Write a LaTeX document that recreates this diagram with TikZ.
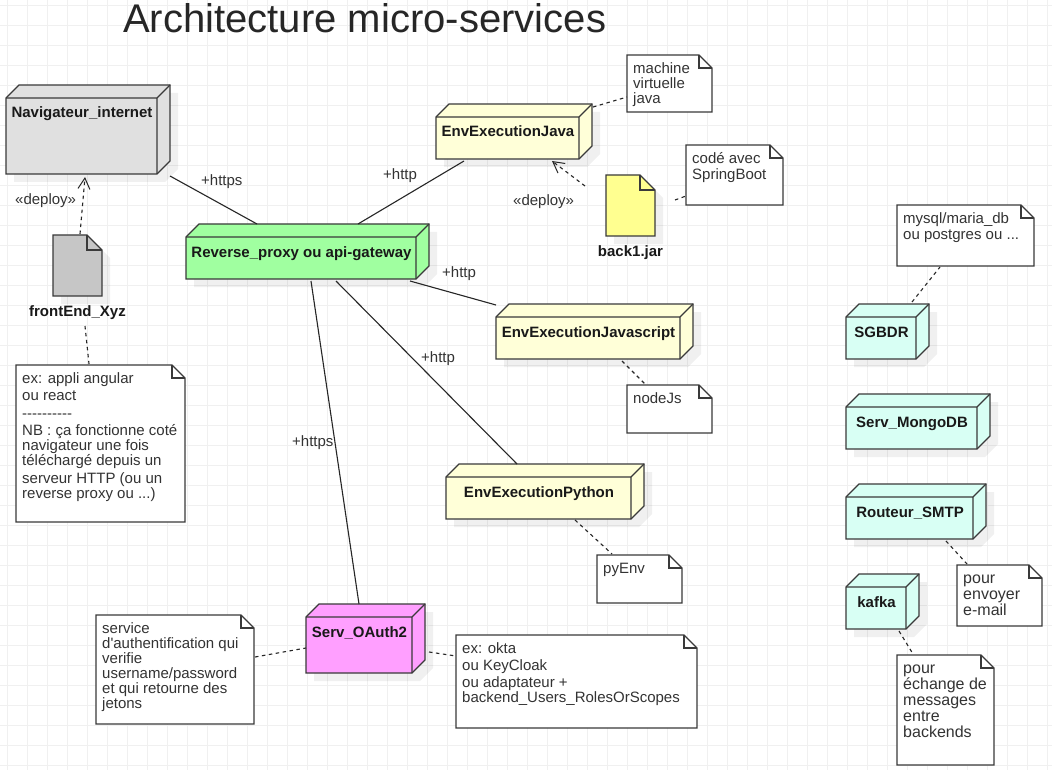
\documentclass[tikz,border=0pt]{standalone}
\usepackage{fontspec}
\usetikzlibrary{arrows.meta}
\newfontfamily\libfont{Liberation Sans}
\definecolor{inkc}{HTML}{3A3A3A}
\definecolor{txtc}{HTML}{333333}
\definecolor{gridc}{HTML}{F0F0F0}
\definecolor{nodegray}{HTML}{E0E0E0}
\definecolor{filegray}{HTML}{C6C6C6}
\definecolor{nodegreen}{HTML}{A0FFA0}
\definecolor{nodeyellow}{HTML}{FFFFD8}
\definecolor{fileyellow}{HTML}{FFFF90}
\definecolor{nodepink}{HTML}{FF9FFF}
\definecolor{nodecyan}{HTML}{D8FFF4}
\tikzset{
  shapeline/.style={draw=inkc,line width=1.25pt,line join=miter},
  softshadow/.style={fill=black,fill opacity=0.06,draw=none},
  anchorbox/.style={inner sep=0pt,outer sep=0pt,draw=none},
  nodelabel/.style={font=\libfont\bfseries\fontsize{15}{15}\selectfont,text=black!90,anchor=base,inner sep=0pt},
  notetext/.style={font=\libfont\fontsize{15}{15}\selectfont,text=txtc,anchor=north west,align=left,inner sep=0pt},
  bignote/.style={font=\libfont\fontsize{16}{16}\selectfont},
  linklabel/.style={font=\libfont\fontsize{15}{15}\selectfont,text=txtc,anchor=base west,inner sep=0pt},
  assoc/.style={draw=black!85,line width=1.1pt},
  notelink/.style={draw=black!85,line width=1.1pt,dash pattern=on 3.5pt off 3.5pt},
  deploylink/.style={notelink,-{Straight Barb[length=11pt,width=12pt,line width=1pt]}},
}
% name x1 y1 x2 y2 depth colour text
\newcommand{\deploybox}[8]{%
  \fill[softshadow] ({#2+8},{#3+8}) -- ({#2+#6+8},{#3-#6+8}) -- ({#4+#6+8},{#3-#6+8}) -- ({#4+#6+8},{#5-#6+8}) -- ({#4+8},{#5+8}) -- ({#2+8},{#5+8}) -- cycle;
  \draw[shapeline,fill=#7] (#2,#3) -- ({#2+#6},{#3-#6}) -- ({#4+#6},{#3-#6}) -- ({#4+#6},{#5-#6}) -- (#4,#5) -- (#2,#5) -- cycle;
  \draw[shapeline] (#2,#3) -- (#4,#3) -- (#4,#5) (#4,#3) -- ({#4+#6},{#3-#6});
  \node[anchorbox,minimum width={#4-#2},minimum height={#5-#3}] (#1) at ({(#2+#4)/2},{(#3+#5)/2}) {};
  \node[nodelabel] (#1-label) at ({(#2+#4)/2+0.5},{#3+20}) {#8};
}
% name x1 y1 x2 y2 colour text
\newcommand{\filebox}[7]{%
  \fill[softshadow] ({#2+8},{#3+8}) -- ({#4-15+8},{#3+8}) -- ({#4+8},{#3+15+8}) -- ({#4+8},{#5+8}) -- ({#2+8},{#5+8}) -- cycle;
  \draw[shapeline,fill=#6] (#2,#3) -- ({#4-15},#3) -- (#4,{#3+15}) -- (#4,#5) -- (#2,#5) -- cycle;
  \draw[shapeline] ({#4-15},#3) -- ({#4-15},{#3+15}) -- (#4,{#3+15});
  \node[anchorbox,minimum width={#4-#2},minimum height={#5-#3}] (#1) at ({(#2+#4)/2},{(#3+#5)/2}) {};
  \node[nodelabel] (#1-label) at ({(#2+#4)/2},{#5+20}) {#7};
}
% [text style] name x1 y1 x2 y2 text
\newcommand{\notebox}[6][]{%
  \draw[shapeline,fill=white] (#3,#4) -- ({#5-13},#4) -- (#5,{#4+13}) -- (#5,#6) -- (#3,#6) -- cycle;
  \draw[shapeline] ({#5-13},#4) -- ({#5-13},{#4+13}) -- (#5,{#4+13});
  \node[anchorbox,minimum width={#5-#3},minimum height={#6-#4}] (#2) at ({(#3+#5)/2},{(#4+#6)/2}) {};
  \node[notetext,#1] (#2-text) at ({#3+6},{#4+6}) \bgroup\rule{0pt}{12pt}\notebody
}
\def\notebody#1{#1\egroup;}
\begin{document}
\begin{tikzpicture}[x=1pt,y=-1pt]
\useasboundingbox (0,0) rectangle (1052,770);
\fill[white] (0,0) rectangle (1052,770);
\foreach \gx in {7,27,...,1047} \draw[gridc,line width=1pt] (\gx,0) -- (\gx,770);
\foreach \gy in {5.5,25.5,...,765.5} \draw[gridc,line width=1pt] (0,\gy) -- (1052,\gy);

\node[font=\libfont\fontsize{40.05}{41}\selectfont,text=black!85,anchor=base west,inner sep=0pt] (title) at (123,33) {Architecture micro-services};

\deploybox{nav}{6}{98}{157}{174}{13}{nodegray}{Navigateur\_internet}
\deploybox{rp}{186}{237}{416}{279}{13}{nodegreen}{Reverse\_proxy ou api-gateway}
\deploybox{java}{436}{117}{579}{159}{13}{nodeyellow}{EnvExecutionJava}
\deploybox{js}{496}{317}{680}{359}{13}{nodeyellow}{EnvExecutionJavascript}
\deploybox{py}{446}{477}{631}{519}{13}{nodeyellow}{EnvExecutionPython}
\deploybox{oauth}{306}{617}{412}{673}{13}{nodepink}{Serv\_OAuth2}
\deploybox{sgbd}{846}{317}{916}{359}{13}{nodecyan}{SGBDR}
\deploybox{mongo}{846}{407}{977}{449}{13}{nodecyan}{Serv\_MongoDB}
\deploybox{smtp}{846}{497}{973}{539}{13}{nodecyan}{Routeur\_SMTP}
\deploybox{kafka}{846}{587}{906}{629}{13}{nodecyan}{kafka}

\filebox{front}{53}{235}{102}{296}{filegray}{frontEnd\_Xyz}
\filebox{back}{606}{175}{655}{236}{fileyellow}{back1.jar}

\notebox{nmach}{627}{55}{712}{112}{machine\\virtuelle\\java}
\notebox{ncode}{686}{145}{783}{205}{codé avec\\[1pt]SpringBoot}
\notebox{nappli}{16}{365}{185}{522}{ex: appli angular\\[2pt]ou react\\[3pt]----------\\[2pt]NB : ça fonctionne coté\\navigateur une fois\\téléchargé depuis un\\[3pt]serveur HTTP (ou un\\reverse proxy ou ...)}
\notebox{njs}{627}{385}{712}{433}{nodeJs}
\notebox{npy}{597}{555}{682}{603}{pyEnv}
\notebox{nserv}{96}{615}{254}{724}{service\\d'authentification qui\\verifie\\username/password\\et qui retourne des\\jetons}
\notebox{nokta}{456}{635}{697}{728}{ex: okta\\[2pt]ou KeyCloak\\[2pt]ou adaptateur +\\backend\_Users\_RolesOrScopes}
\notebox{nsql}{897}{205}{1034}{266}{mysql/maria\_db\\[1pt]ou postgres ou ...}
\notebox[bignote]{nsmtp}{957}{565}{1042}{626}{pour\\envoyer\\e-mail}
\notebox[bignote]{nkafka}{897}{655}{994}{765}{pour\\échange de\\messages\\entre\\backends}

% associations
\draw[assoc] ([shift={(13,2)}]nav.south east) -- ([shift={(71,-13)}]rp.north west);
\draw[assoc] ([shift={(172,-13)}]rp.north west) -- ([shift={(28,2)}]java.south west);
\draw[assoc] ([shift={(224,2)}]rp.south west) -- ([shift={(0,-12)}]js.north west);
\draw[assoc] ([shift={(150,2)}]rp.south west) -- ([shift={(71,-13)}]py.north west);
\draw[assoc] ([shift={(125,2)}]rp.south west) -- ([shift={(53,-13)}]oauth.north west);

% deployments
\draw[deploylink] ([shift={(27,-1)}]front.north west) -- ([shift={(79,3)}]nav.south west);
\draw[deploylink] ([shift={(-21,11)}]back.north west) -- ([shift={(-27,2)}]java.south east);

% note links
\draw[notelink] ([shift={(14,-10)}]java.north east) -- ([shift={(0,42)}]nmach.north west);
\draw[notelink] ([shift={(20,25)}]back.north east) -- ([shift={(0,51)}]ncode.north west);
\draw[notelink] ([shift={(32,30)}]front.south west) -- ([shift={(73,-1)}]nappli.north west);
\draw[notelink] ([shift={(126,2)}]js.south west) -- ([shift={(19,0)}]njs.north west);
\draw[notelink] ([shift={(129,1)}]py.south west) -- ([shift={(15,-1)}]npy.north west);
\draw[notelink] ([shift={(159,42)}]nserv.north west) -- ([shift={(0,31)}]oauth.north west);
\draw[notelink] ([shift={(17,-21)}]oauth.south east) -- ([shift={(0,21)}]nokta.north west);
\draw[notelink] ([shift={(66,-15)}]sgbd.north west) -- ([shift={(43,1)}]nsql.south west);
\draw[notelink] ([shift={(100,2)}]smtp.south west) -- ([shift={(10,-1)}]nsmtp.north west);
\draw[notelink] ([shift={(53,2)}]kafka.south west) -- ([shift={(16,-1)}]nkafka.north west);

% labels
\node[linklabel] (l1) at (201,186) {+https};
\node[linklabel] (l2) at (383,180) {+http};
\node[linklabel] (l3) at (442,277) {+http};
\node[linklabel] (l4) at (421,362) {+http};
\node[linklabel] (l5) at (292,446) {+https};
\node[linklabel] (l6) at (15,205) {«deploy»};
\node[linklabel] (l7) at (513,206) {«deploy»};
\end{tikzpicture}
\end{document}
